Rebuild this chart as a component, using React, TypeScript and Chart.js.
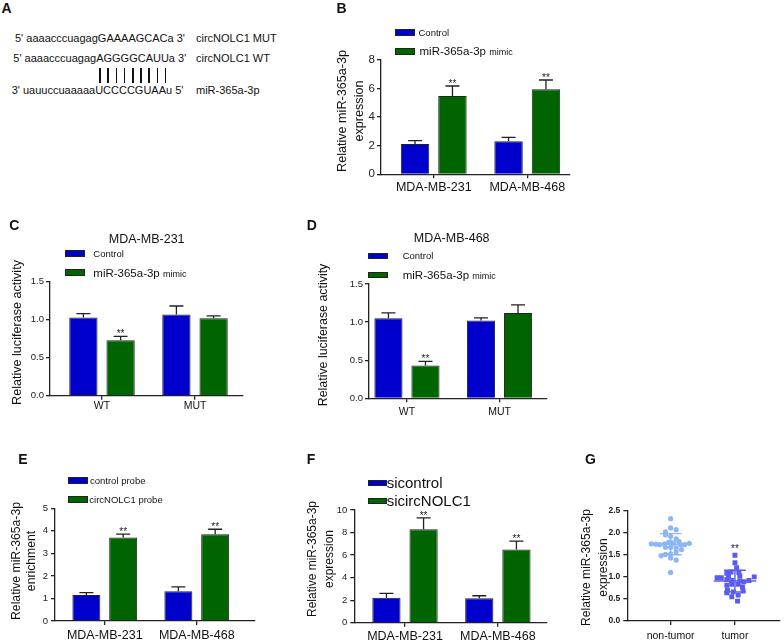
import React, { useEffect, useRef } from 'react';
import { Chart, registerables } from 'chart.js';

Chart.register(...registerables);

const FONT = '"Liberation Sans", Arial, Helvetica, sans-serif';
const BLUE = '#0000cd';
const GREEN = '#006400';
const INK = '#222222';
const W = 784;
const H = 640;
const CAP = 14;

// ---------------- data ----------------
// B
const bCategories = ['MDA-MB-231', 'MDA-MB-468'];
const bControl = [2.12, 2.31];
const bControlErr = [0.23, 0.28];
const bMimic = [5.48, 5.95];
const bMimicErr = [0.7, 0.65];
const bMimicStars = ['**', '**'];
const bYMax = 8;
const bYStep = 2;

// C
const cCategories = ['WT', 'MUT'];
const cControl = [1.03, 1.07];
const cControlErr = [0.05, 0.11];
const cMimic = [0.73, 1.02];
const cMimicErr = [0.05, 0.03];
const cMimicStars = ['**', ''];
const cYMax = 1.5;
const cYStep = 0.5;

// D
const dCategories = ['WT', 'MUT'];
const dControl = [1.05, 1.02];
const dControlErr = [0.07, 0.035];
const dMimic = [0.43, 1.12];
const dMimicErr = [0.055, 0.105];
const dMimicStars = ['**', ''];
const dYMax = 1.5;
const dYStep = 0.5;

// E
const eCategories = ['MDA-MB-231', 'MDA-MB-468'];
const eControl = [1.15, 1.32];
const eControlErr = [0.11, 0.19];
const eProbe = [3.7, 3.85];
const eProbeErr = [0.15, 0.22];
const eProbeStars = ['**', '**'];
const eYMax = 5;
const eYStep = 1;

// F
const fCategories = ['MDA-MB-231', 'MDA-MB-468'];
const fControl = [2.21, 2.16];
const fControlErr = [0.39, 0.23];
const fSi = [8.3, 6.5];
const fSiErr = [1.0, 0.73];
const fSiStars = ['**', '**'];
const fYMax = 10;
const fYStep = 2;

// G
const gGroups = ['non-tumor', 'tumor'];
const gNonTumor = [2.32, 2.11, 2.07, 2.02, 1.95, 1.92, 1.86, 1.8, 1.79, 1.75, 1.74, 1.73, 1.75, 1.78, 1.76, 1.73, 1.73, 1.76, 1.67, 1.67, 1.66, 1.62, 1.57, 1.51, 1.52, 1.48, 1.43, 1.38, 1.1];
const gNonTumorJitter = [0, 0, 0.086, -0.08, -0.08, 0, 0.086, 0.13, 0, -0.3, -0.23, -0.17, -0.095, -0.03, 0.045, 0.156, 0.22, 0.29, -0.08, 0, 0.086, 0.17, 0.086, -0.08, 0, -0.147, 0, 0.086, 0];
const gTumor = [1.49, 1.32, 1.21, 1.11, 1.1, 1.08, 0.98, 0.98, 1.02, 1.02, 1.0, 0.92, 0.94, 0.92, 0.91, 0.89, 0.81, 0.83, 0.83, 0.77, 0.64, 0.66, 0.68, 0.55, 0.59, 0.45, 0.7];
const gTumorJitter = [0, 0, 0.026, -0.06, 0.06, -0.126, -0.277, -0.212, -0.1, 0.076, 0.3, 0.217, -0.126, -0.05, 0.076, 0.136, -0.126, -0.05, 0.05, 0.117, -0.126, -0.026, 0.126, -0.05, 0.05, 0.04, -0.117];
const gMeans = [1.74, 0.905];
const gSDs = [0.24, 0.245];
const gStars = ['', '**'];
const gYMax = 2.5;
const gYStep = 0.5;

// ---------------- plugins ----------------
const errorBarPlugin = {
  id: 'errorBars',
  afterDatasetsDraw(chart: any) {
    const ctx = chart.ctx;
    const yScale = chart.scales.y;
    chart.data.datasets.forEach((ds: any, di: number) => {
      const meta = chart.getDatasetMeta(di);
      meta.data.forEach((bar: any, i: number) => {
        const v = ds.data[i].y;
        const err = ds.errors ? ds.errors[i] : 0;
        const top = yScale.getPixelForValue(v + err);
        ctx.save();
        ctx.strokeStyle = INK;
        ctx.lineWidth = 1.3;
        ctx.beginPath();
        ctx.moveTo(bar.x, bar.y);
        ctx.lineTo(bar.x, top);
        ctx.moveTo(bar.x - CAP / 2, top);
        ctx.lineTo(bar.x + CAP / 2, top);
        ctx.stroke();
        const star = ds.stars ? ds.stars[i] : '';
        if (star) {
          ctx.fillStyle = INK;
          ctx.font = `10px ${FONT}`;
          ctx.textAlign = 'center';
          ctx.textBaseline = 'alphabetic';
          ctx.fillText(star, bar.x, top + 1);
        }
        ctx.restore();
      });
    });
  },
};

const meanSdPlugin = {
  id: 'meanSd',
  afterDatasetsDraw(chart: any) {
    const ctx = chart.ctx;
    const xs = chart.scales.x;
    const ys = chart.scales.y;
    chart.data.datasets.forEach((ds: any) => {
      const cx = xs.getPixelForValue(ds.center);
      const halfMean = xs.getPixelForValue(ds.center + 0.33) - cx;
      const halfSd = xs.getPixelForValue(ds.center + 0.17) - cx;
      const ym = ys.getPixelForValue(ds.mean);
      const yHi = ys.getPixelForValue(ds.mean + ds.sd);
      const yLo = ys.getPixelForValue(ds.mean - ds.sd);
      ctx.save();
      ctx.strokeStyle = ds.lineColor;
      ctx.lineWidth = 1.4;
      ctx.beginPath();
      ctx.moveTo(cx - halfMean, ym);
      ctx.lineTo(cx + halfMean, ym);
      ctx.moveTo(cx - halfSd, yHi);
      ctx.lineTo(cx + halfSd, yHi);
      ctx.moveTo(cx - halfSd, yLo);
      ctx.lineTo(cx + halfSd, yLo);
      ctx.moveTo(cx, yHi);
      ctx.lineTo(cx, yLo);
      ctx.stroke();
      if (ds.star) {
        const maxV = Math.max(...ds.data.map((d: any) => d.y));
        ctx.fillStyle = INK;
        ctx.font = `10px ${FONT}`;
        ctx.textAlign = 'center';
        ctx.textBaseline = 'alphabetic';
        ctx.fillText(ds.star, cx, ys.getPixelForValue(maxV) - 3);
      }
      ctx.restore();
    });
  },
};

function makeYTitlePlugin(lines: string[], xs: number[], cy: number, size: number) {
  return {
    id: 'yTitleText',
    afterDraw(chart: any) {
      const ctx = chart.ctx;
      ctx.save();
      ctx.fillStyle = '#111';
      ctx.font = `${size}px ${FONT}`;
      ctx.textAlign = 'center';
      ctx.textBaseline = 'middle';
      lines.forEach((line, i) => {
        ctx.save();
        ctx.translate(xs[i], cy);
        ctx.rotate(-Math.PI / 2);
        ctx.fillText(line, 0, 0);
        ctx.restore();
      });
      ctx.restore();
    },
  };
}

// ---------------- config builders ----------------
type Area = { left: number; top: number; right: number; bottom: number };
type AxisStyle = {
  area: Area;
  xRange: [number, number];
  yMax: number;
  yStep: number;
  yDecimals: number;
  yTitle: string[];
  titleSize: number;
  titleXs: number[];
  titleCy: number;
  yTickSize: number;
  yTickBold?: boolean;
  xTickSize: number;
  xTickPad: number;
  yTickPad: number;
  labels: string[];
};

function axes(p: AxisStyle) {
  const padLeft = Math.max(p.area.left - 36, 0);
  const gridOpts = { display: true, drawOnChartArea: false, drawTicks: true, tickLength: 4, color: INK, lineWidth: 1.3, offset: false };
  const borderOpts = { display: true, color: INK, width: 1.3 };
  return {
    layout: { padding: { left: padLeft, top: p.area.top, right: W - p.area.right, bottom: 0 } },
    scales: {
      x: {
        type: 'linear',
        min: p.xRange[0],
        max: p.xRange[1],
        offset: false,
        afterFit: (s: any) => {
          s.height = H - p.area.bottom;
        },
        afterBuildTicks: (s: any) => {
          s.ticks = p.labels.map((_, i) => ({ value: i + 1 }));
        },
        ticks: {
          callback: (v: any) => p.labels[Math.round(v) - 1] ?? '',
          font: { family: FONT, size: p.xTickSize },
          color: '#111',
          padding: p.xTickPad,
          maxRotation: 0,
          autoSkip: false,
        },
        grid: gridOpts,
        border: borderOpts,
      },
      y: {
        min: 0,
        max: p.yMax,
        afterFit: (s: any) => {
          s.width = p.area.left - padLeft;
        },
        ticks: {
          stepSize: p.yStep,
          callback: (v: any) => Number(v).toFixed(p.yDecimals),
          font: { family: FONT, size: p.yTickSize, weight: p.yTickBold ? 'bold' : 'normal' },
          color: '#222',
          padding: p.yTickPad,
        },
        grid: gridOpts,
        border: borderOpts,
        title: { display: false },
      },
    },
  };
}

type Series = { label: string; values: number[]; errors: number[]; stars: string[]; color: string };

function barConfig(series: Series[], p: AxisStyle) {
  const ax = axes(p);
  return {
    type: 'bar',
    data: {
      datasets: series.map((s) => ({
        label: s.label,
        data: s.values.map((v, i) => ({ x: i + 1, y: v })),
        errors: s.errors,
        stars: s.stars,
        backgroundColor: s.color,
        borderColor: INK,
        borderWidth: 1,
        categoryPercentage: 0.8,
        barPercentage: 0.76,
      })),
    },
    options: {
      responsive: false,
      animation: false,
      devicePixelRatio: 1,
      events: [],
      plugins: { legend: { display: false }, tooltip: { enabled: false } },
      ...ax,
    },
    plugins: [errorBarPlugin, makeYTitlePlugin(p.yTitle, p.titleXs, p.titleCy, p.titleSize)],
  };
}

function scatterConfig(p: AxisStyle) {
  const ax = axes(p);
  return {
    type: 'scatter',
    data: {
      datasets: [
        {
          label: gGroups[0],
          data: gNonTumor.map((v, i) => ({ x: 1 + gNonTumorJitter[i], y: v })),
          pointStyle: 'circle',
          pointRadius: 2.6,
          backgroundColor: '#8cb6f6',
          borderWidth: 0,
          center: 1,
          mean: gMeans[0],
          sd: gSDs[0],
          star: gStars[0],
          lineColor: '#8cb6f6',
        },
        {
          label: gGroups[1],
          data: gTumor.map((v, i) => ({ x: 2 + gTumorJitter[i], y: v })),
          pointStyle: 'rect',
          pointRadius: 3.5,
          backgroundColor: '#5a5cf0',
          borderWidth: 0,
          center: 2,
          mean: gMeans[1],
          sd: gSDs[1],
          star: gStars[1],
          lineColor: '#5a5cf0',
        },
      ],
    },
    options: {
      responsive: false,
      animation: false,
      devicePixelRatio: 1,
      events: [],
      plugins: { legend: { display: false }, tooltip: { enabled: false } },
      ...ax,
    },
    plugins: [meanSdPlugin, makeYTitlePlugin(p.yTitle, p.titleXs, p.titleCy, p.titleSize)],
  };
}

// ---------------- components ----------------
function ChartLayer({ config }: { config: any }) {
  const ref = useRef<HTMLCanvasElement>(null);
  useEffect(() => {
    const chart = new Chart(ref.current as HTMLCanvasElement, config);
    return () => chart.destroy();
  }, []);
  return <canvas ref={ref} width={W} height={H} style={{ position: 'absolute', left: 0, top: 0 }} />;
}

function Txt({ x, cy, size, children, bold, center }: { x: number; cy: number; size: number; children: any; bold?: boolean; center?: boolean }) {
  const lh = size * 2;
  const style: any = {
    position: 'absolute',
    top: cy - lh / 2,
    height: lh,
    lineHeight: lh + 'px',
    fontSize: size,
    fontFamily: FONT,
    fontWeight: bold ? 'bold' : 'normal',
    whiteSpace: 'pre',
    color: '#111',
  };
  if (center) {
    style.left = x - 150;
    style.width = 300;
    style.textAlign = 'center';
  } else {
    style.left = x;
  }
  return <div style={style}>{children}</div>;
}

function Box({ x, y, w, h, color }: { x: number; y: number; w: number; h: number; color: string }) {
  return (
    <div
      style={{
        position: 'absolute',
        left: x,
        top: y,
        width: w,
        height: h,
        background: color,
        border: '1px solid #222',
        boxSizing: 'border-box',
      }}
    />
  );
}

const pairingBars = [100, 108.2, 116.4, 124.6, 132.8, 141, 149.2, 157.4, 165.6];

export default function App() {
  const bCfg = barConfig(
    [
      { label: 'Control', values: bControl, errors: bControlErr, stars: ['', ''], color: BLUE },
      { label: 'miR-365a-3p mimic', values: bMimic, errors: bMimicErr, stars: bMimicStars, color: GREEN },
    ],
    {
      area: { left: 381, top: 60, right: 570, bottom: 174.3 },
      xRange: [0.436, 2.457],
      yMax: bYMax,
      yStep: bYStep,
      yDecimals: 0,
      yTitle: ['Relative miR-365a-3p', 'expression'],
      titleSize: 12.6,
      titleXs: [343, 360],
      titleCy: 111,
      yTickSize: 11.5,
      xTickSize: 12.5,
      xTickPad: 2,
      yTickPad: 2,
      labels: bCategories,
    }
  );
  const cCfg = barConfig(
    [
      { label: 'Control', values: cControl, errors: cControlErr, stars: ['', ''], color: BLUE },
      { label: 'miR-365a-3p mimic', values: cMimic, errors: cMimicErr, stars: cMimicStars, color: GREEN },
    ],
    {
      area: { left: 50, top: 281.7, right: 243, bottom: 395.7 },
      xRange: [0.441, 2.516],
      yMax: cYMax,
      yStep: cYStep,
      yDecimals: 1,
      yTitle: ['Relative luciferase activity'],
      titleSize: 12.6,
      titleXs: [18],
      titleCy: 332.5,
      yTickSize: 9.5,
      xTickSize: 10.5,
      xTickPad: 0,
      yTickPad: 2,
      labels: cCategories,
    }
  );
  const dCfg = barConfig(
    [
      { label: 'Control', values: dControl, errors: dControlErr, stars: ['', ''], color: BLUE },
      { label: 'miR-365a-3p mimic', values: dMimic, errors: dMimicErr, stars: dMimicStars, color: GREEN },
    ],
    {
      area: { left: 369, top: 284, right: 547, bottom: 398.3 },
      xRange: [0.59, 2.513],
      yMax: dYMax,
      yStep: dYStep,
      yDecimals: 1,
      yTitle: ['Relative luciferase activity'],
      titleSize: 12.4,
      titleXs: [323.3],
      titleCy: 335,
      yTickSize: 9.5,
      xTickSize: 10.5,
      xTickPad: 4,
      yTickPad: 2,
      labels: dCategories,
    }
  );
  const eCfg = barConfig(
    [
      { label: 'control probe', values: eControl, errors: eControlErr, stars: ['', ''], color: BLUE },
      { label: 'circNOLC1 probe', values: eProbe, errors: eProbeErr, stars: eProbeStars, color: GREEN },
    ],
    {
      area: { left: 55, top: 508.3, right: 255, bottom: 621 },
      xRange: [0.459, 2.633],
      yMax: eYMax,
      yStep: eYStep,
      yDecimals: 0,
      yTitle: ['Relative miR-365a-3p', 'enrichment'],
      titleSize: 12.2,
      titleXs: [16.7, 31.7],
      titleCy: 561,
      yTickSize: 9.5,
      xTickSize: 12.5,
      xTickPad: 3.5,
      yTickPad: 3,
      labels: eCategories,
    }
  );
  const fCfg = barConfig(
    [
      { label: 'sicontrol', values: fControl, errors: fControlErr, stars: ['', ''], color: BLUE },
      { label: 'sicircNOLC1', values: fSi, errors: fSiErr, stars: fSiStars, color: GREEN },
    ],
    {
      area: { left: 354.3, top: 510, right: 546.7, bottom: 622.7 },
      xRange: [0.454, 2.526],
      yMax: fYMax,
      yStep: fYStep,
      yDecimals: 0,
      yTitle: ['Relative miR-365a-3p', 'expression'],
      titleSize: 12,
      titleXs: [312.7, 329.3],
      titleCy: 559,
      yTickSize: 9.5,
      xTickSize: 12.5,
      xTickPad: 2,
      yTickPad: 3,
      labels: fCategories,
    }
  );
  const gCfg = scatterConfig({
    area: { left: 627.3, top: 510.7, right: 784, bottom: 621 },
    xRange: [0.327, 2.7],
    yMax: gYMax,
    yStep: gYStep,
    yDecimals: 1,
    yTitle: ['Relative miR-365a-3p', 'expression'],
    titleSize: 12.1,
    titleXs: [586.7, 603.3],
    titleCy: 567.5,
    yTickSize: 8.5,
    yTickBold: true,
    xTickSize: 10.5,
    xTickPad: 4.5,
    yTickPad: 3,
    labels: gGroups,
  });

  return (
    <div style={{ position: 'fixed', left: 0, top: 0, width: W, height: H, overflow: 'hidden', background: '#fff' }}>
      {/* Panel A */}
      <Txt x={1.5} cy={8.3} size={14} bold>A</Txt>
      <Txt x={15} cy={38.3} size={11}>5' aaaacccuagagGAAAAGCACa 3'</Txt>
      <Txt x={196} cy={38.3} size={11}>circNOLC1 MUT</Txt>
      <Txt x={13.3} cy={57.5} size={11}>5' aaaacccuagagAGGGGCAUUa 3'</Txt>
      <Txt x={196} cy={57.5} size={11}>circNOLC1 WT</Txt>
      {pairingBars.map((bx, i) => (
        <div key={i} style={{ position: 'absolute', left: bx - 0.8, top: 68.3, width: 1.6, height: 15, background: '#111' }} />
      ))}
      <Txt x={11.7} cy={90} size={11}>3' uauuccuaaaaaUCCCCGUAAu 5'</Txt>
      <Txt x={196} cy={90} size={11}>miR-365a-3p</Txt>

      <ChartLayer config={bCfg} />
      <ChartLayer config={cCfg} />
      <ChartLayer config={dCfg} />
      <ChartLayer config={eCfg} />
      <ChartLayer config={fCfg} />
      <ChartLayer config={gCfg} />

      {/* Panel B */}
      <Txt x={336.5} cy={8.3} size={14} bold>B</Txt>
      <Box x={395} y={28.5} w={20} h={7} color={BLUE} />
      <Txt x={418.5} cy={32.3} size={9.5}>Control</Txt>
      <Box x={395} y={47.5} w={20} h={7} color={GREEN} />
      <Txt x={419.5} cy={51} size={11.5}>
        miR-365a-3p <span style={{ fontSize: 9 }}>mimic</span>
      </Txt>

      {/* Panel C */}
      <Txt x={9.3} cy={225} size={14} bold>C</Txt>
      <Txt x={146.7} cy={239.3} size={12.5} center>MDA-MB-231</Txt>
      <Box x={65} y={250} w={20} h={6.7} color={BLUE} />
      <Txt x={93.3} cy={253.3} size={9.5}>Control</Txt>
      <Box x={65} y={269.3} w={20} h={6.7} color={GREEN} />
      <Txt x={93.3} cy={273.3} size={11.5}>
        miR-365a-3p <span style={{ fontSize: 9 }}>mimic</span>
      </Txt>

      {/* Panel D */}
      <Txt x={306.7} cy={225} size={14} bold>D</Txt>
      <Txt x={451.7} cy={238.3} size={12.5} center>MDA-MB-468</Txt>
      <Box x={368.3} y={252.5} w={20} h={6.5} color={BLUE} />
      <Txt x={402.7} cy={255.7} size={9.5}>Control</Txt>
      <Box x={368.3} y={271.5} w={20} h={6.5} color={GREEN} />
      <Txt x={402.7} cy={275} size={11.5}>
        miR-365a-3p <span style={{ fontSize: 9 }}>mimic</span>
      </Txt>

      {/* Panel E */}
      <Txt x={18.3} cy={459.3} size={14} bold>E</Txt>
      <Box x={68.3} y={477.3} w={20} h={6.7} color={BLUE} />
      <Txt x={90} cy={480.7} size={9.5}>control probe</Txt>
      <Box x={68.3} y={496} w={20} h={6.7} color={GREEN} />
      <Txt x={89.3} cy={499.3} size={9.5}>circNOLC1 probe</Txt>

      {/* Panel F */}
      <Txt x={306.7} cy={459.3} size={14} bold>F</Txt>
      <Box x={368.3} y={480} w={18.4} h={6} color={BLUE} />
      <Txt x={386.7} cy={483.3} size={15}>sicontrol</Txt>
      <Box x={368.3} y={497.7} w={18.4} h={6} color={GREEN} />
      <Txt x={386.7} cy={500.7} size={15}>sicircNOLC1</Txt>

      {/* Panel G */}
      <Txt x={585} cy={459.3} size={14} bold>G</Txt>
    </div>
  );
}
